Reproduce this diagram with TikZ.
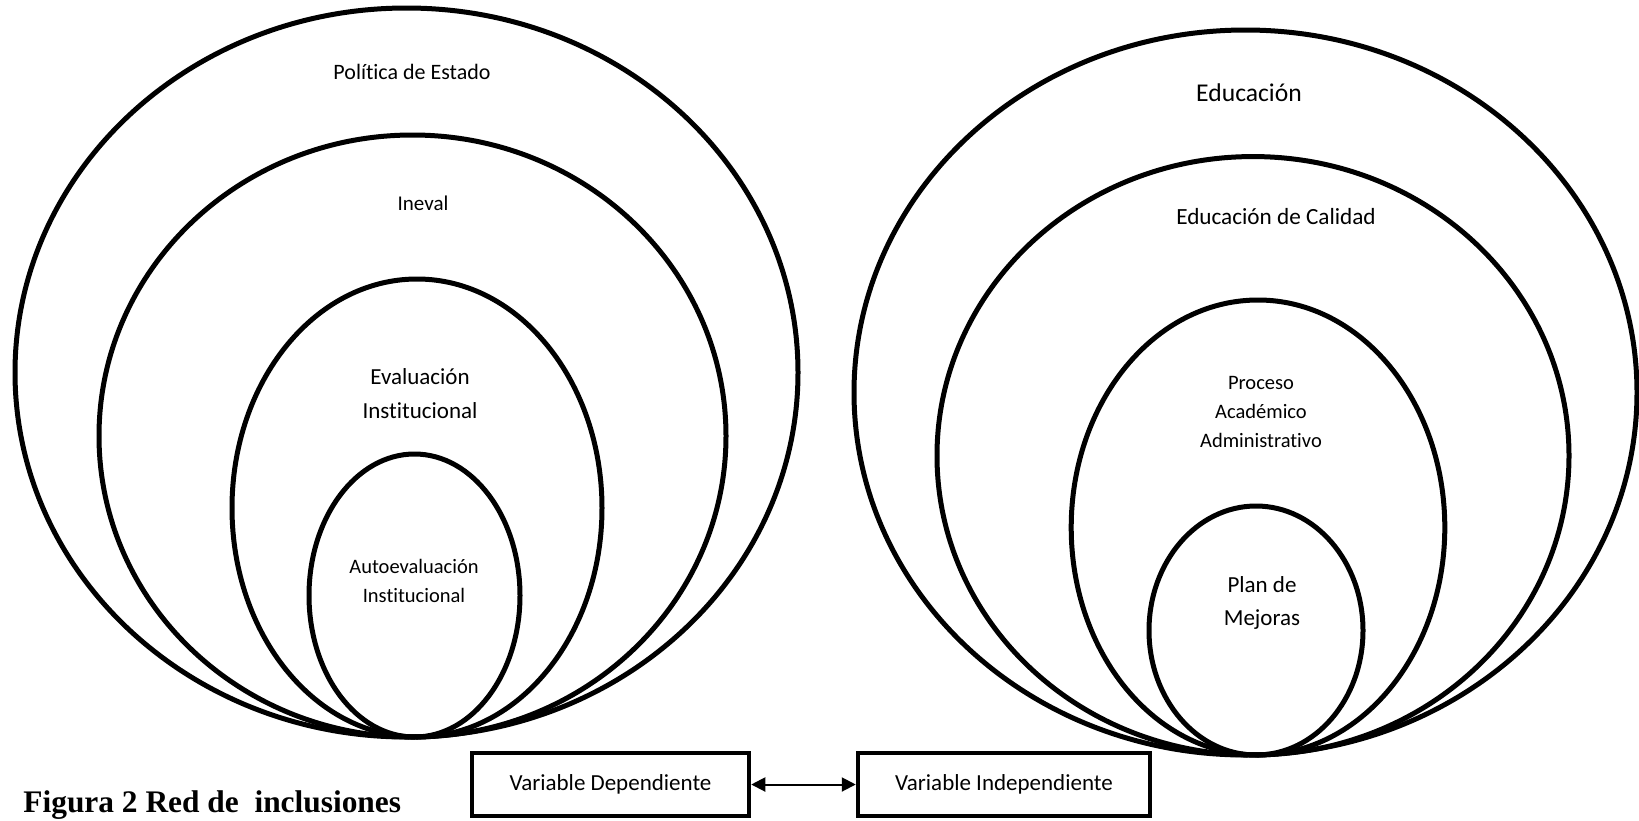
\documentclass[tikz,border=0pt]{standalone}
\usepackage{fontspec}
\setmainfont{Carlito}[Ligatures=NoCommon]
\newfontfamily\capfont{Liberation Serif}
\usetikzlibrary{arrows.meta,shapes.geometric}
\tikzset{
  ring/.style={draw=black, line width=2.5pt},
  lbl/.style={align=center, inner sep=0pt, text=black},
  varbox/.style={draw=black, line width=2.25pt, minimum height=31.5pt, inner sep=0pt, font=\fontsize{11.5pt}{14pt}\selectfont},
  link/.style={line width=1pt, {Triangle[length=7pt,width=7pt]}-{Triangle[length=7pt,width=7pt]}}
}
\begin{document}
\begin{tikzpicture}[x=0.5pt,y=-0.5pt]
\useasboundingbox (0,0) rectangle (1639,820);
\fill[white] (0,0) rectangle (1639,820);

% left group
\draw[ring] (406.5,372.5) ellipse [x radius=195.75pt, y radius=182.25pt];
\draw[ring] (412.5,436) ellipse [x radius=156.75pt, y radius=150.5pt];
\draw[ring] (417,508) ellipse [x radius=92.5pt, y radius=114.5pt];
\draw[ring] (414.5,595.5) ellipse [x radius=52.75pt, y radius=70.75pt];

% right group
\draw[ring] (1245.5,392.5) ellipse [x radius=195.75pt, y radius=181.25pt];
\draw[ring] (1253,455.75) ellipse [x radius=158pt, y radius=149.6pt];
\draw[ring] (1258,527.5) ellipse [x radius=93.4pt, y radius=113.75pt];
\draw[ring] (1256,630.5) ellipse [x radius=53.5pt, y radius=62.25pt];

% left labels
\node[lbl, font=\fontsize{11pt}{13pt}\selectfont] (pol) at (412,72) {Política de Estado};
\node[lbl, font=\fontsize{10.5pt}{13pt}\selectfont] (ine) at (423,203) {Ineval};
\node[lbl, font=\fontsize{11.5pt}{17pt}\selectfont] (evi) at (420,394) {Evaluación\\Institucional};
\node[lbl, font=\fontsize{10.25pt}{14.5pt}\selectfont] (aut) at (414,581) {Autoevaluación\\Institucional};

% right labels
\node[lbl, font=\fontsize{12.8pt}{15pt}\selectfont] (edu) at (1249,93) {Educación};
\node[lbl, font=\fontsize{11.6pt}{14pt}\selectfont] (edc) at (1276,217) {Educación de Calidad};
\node[lbl, font=\fontsize{10.25pt}{14.5pt}\selectfont] (pro) at (1261,412) {Proceso\\Académico\\Administrativo};
\node[lbl, font=\fontsize{11.5pt}{16.5pt}\selectfont] (pla) at (1262,603) {Plan de\\Mejoras};

% boxes and connector
\node[varbox, minimum width=138.5pt] (dep) at (610.5,784.5) {Variable Dependiente};
\node[varbox, minimum width=146pt] (ind) at (1004,784.5) {Variable Independiente};
\draw[link] (dep.east) -- (ind.west);

% caption
\node[lbl, anchor=base west, font=\capfont\bfseries\fontsize{15.7pt}{18pt}\selectfont] (cap) at (23,812) {Figura 2 Red de\ \ inclusiones};
\end{tikzpicture}
\end{document}
